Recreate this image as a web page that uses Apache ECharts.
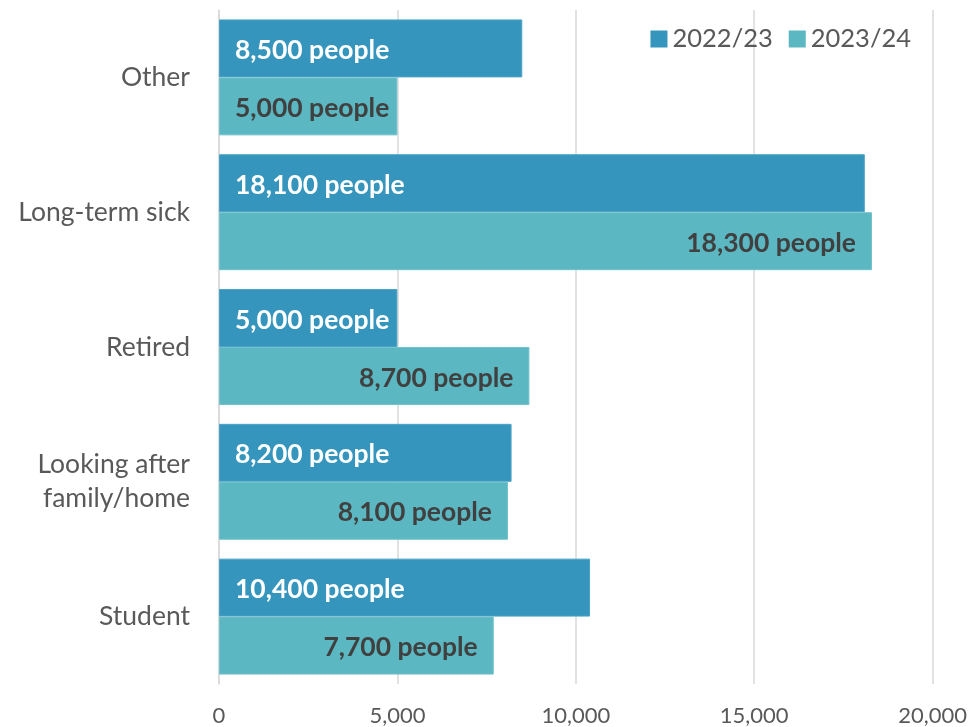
<!DOCTYPE html>
<html>
<head>
<meta charset="utf-8">
<script src="https://cdn.jsdelivr.net/npm/echarts@6/dist/echarts.min.js"></script>
<style>
  html, body { margin: 0; padding: 0; background: #fff; }
  #chart { width: 970px; height: 727px; }
</style>
</head>
<body>
<div id="chart"></div>
<script>
// Reasons for economic inactivity, people per year
const categories = ['Other', 'Long-term sick', 'Retired', 'Looking after\nfamily/home', 'Student'];
const seriesNames = ['2022/23', '2023/24'];
const values2223 = [8500, 18100, 5000, 8200, 10400];
const values2324 = [5000, 18300, 8700, 8100, 7700];
const xTicks = [0, 5000, 10000, 15000, 20000];

const FONT = 'Lato, "Open Sans", sans-serif';
const fmt = v => v.toLocaleString('en-GB');

// Short bars keep their label anchored at the start instead of overflowing
const shortBar = 6000;
const data2324 = values2324.map(v => ({
  value: v,
  label: v < shortBar ? { position: 'insideLeft', distance: 16 } : undefined
}));

const chart = echarts.init(document.getElementById('chart'), null, { renderer: 'canvas' });

chart.setOption({
  animation: false,
  textStyle: { fontFamily: FONT },
  grid: { left: 219, right: 36, top: 10, bottom: 41, containLabel: false },
  legend: {
    data: seriesNames,
    top: 21,
    right: 54,
    itemWidth: 17,
    itemHeight: 17,
    itemGap: 16,
    icon: 'rect',
    itemStyle: { borderWidth: 0 },
    textStyle: { fontSize: 25.5, color: '#595959', fontFamily: FONT }
  },
  xAxis: {
    type: 'value',
    min: xTicks[0],
    max: xTicks[xTicks.length - 1],
    interval: 5000,
    axisLine: { show: false },
    axisTick: { show: false },
    splitLine: { show: true, lineStyle: { color: '#d9d9d9', width: 1.5 } },
    axisLabel: {
      color: '#595959',
      fontSize: 22,
      margin: 21,
      fontFamily: FONT,
      formatter: v => fmt(v)
    }
  },
  yAxis: {
    type: 'category',
    data: categories,
    inverse: true,
    axisLine: { show: true, lineStyle: { color: '#d9d9d9', width: 1.5 } },
    axisTick: { show: false },
    axisLabel: {
      color: '#595959',
      fontSize: 26.5,
      margin: 29,
      lineHeight: 34,
      align: 'right',
      fontFamily: FONT
    }
  },
  series: [
    {
      name: seriesNames[0],
      type: 'bar',
      data: values2223,
      barGap: '0%',
      barCategoryGap: '14%',
      itemStyle: { color: '#3595bc', borderColor: '#4aa3c7', borderWidth: 1 },
      label: {
        show: true,
        position: 'insideLeft',
        distance: 16,
        offset: [0, 2],
        color: '#ffffff',
        fontWeight: 'bold',
        fontSize: 26.5,
        fontFamily: FONT,
        formatter: p => fmt(p.value) + ' people'
      }
    },
    {
      name: seriesNames[1],
      type: 'bar',
      data: data2324,
      barGap: '0%',
      barCategoryGap: '14%',
      itemStyle: { color: '#5bb7c1', borderColor: '#70c2cb', borderWidth: 1 },
      label: {
        show: true,
        position: 'insideRight',
        distance: 16,
        offset: [0, 2],
        color: '#404040',
        fontWeight: 'bold',
        fontSize: 26.5,
        fontFamily: FONT,
        formatter: p => fmt(p.value) + ' people'
      }
    }
  ]
});
</script>
</body>
</html>
